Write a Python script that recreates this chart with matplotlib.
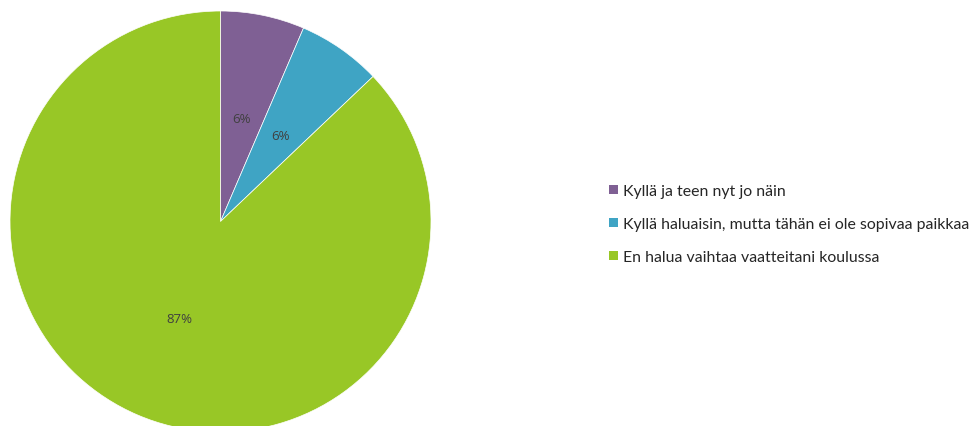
import matplotlib
matplotlib.use("Agg")
import matplotlib.pyplot as plt
from matplotlib.patches import Patch

# ── data ───────────────────────────────────────────────────────────────────
labels = [
    "Kyllä ja teen nyt jo näin",
    "Kyllä haluaisin, mutta tähän ei ole sopivaa paikkaa",
    "En halua vaihtaa vaatteitani koulussa",
]
counts = [2, 2, 27]
colors = ["#7F6094", "#3FA4C4", "#98C726"]

plt.rcParams["font.family"] = ["Lato", "DejaVu Sans"]

W, H = 971, 427
fig = plt.figure(figsize=(W / 100, H / 100), dpi=100)

# pie centre at (220.5, 222.5) px from top-left, radius 210.5 px
cx, cy, r = 220.5, 222.5, 210.5
ax = fig.add_axes([(cx - r) / W, (H - cy - r) / H, 2 * r / W, 2 * r / H])
wedges, _, autotexts = ax.pie(
    counts, colors=colors, startangle=90, counterclock=False,
    autopct=lambda p: f"{p:.0f}%", pctdistance=0.5, radius=1.0,
    wedgeprops=dict(linewidth=0.5, edgecolor="white"),
    textprops=dict(color="#404040", fontsize=9.5, family=["Open Sans", "DejaVu Sans"]),
)
ax.set_xlim(-1, 1)
ax.set_ylim(-1, 1)
ax.set_aspect("equal")
ax.axis("off")

handles = [Patch(facecolor=c, edgecolor="none") for c in colors]
fig.legend(handles, labels, loc="center left",
           bbox_to_anchor=(595 / W, 1 - 225 / H),
           frameon=False, fontsize=11.4, labelspacing=1.2,
           handlelength=0.55, handleheight=0.55, handletextpad=0.3,
           labelcolor="#262626")

fig.savefig("out.png", dpi=100)
